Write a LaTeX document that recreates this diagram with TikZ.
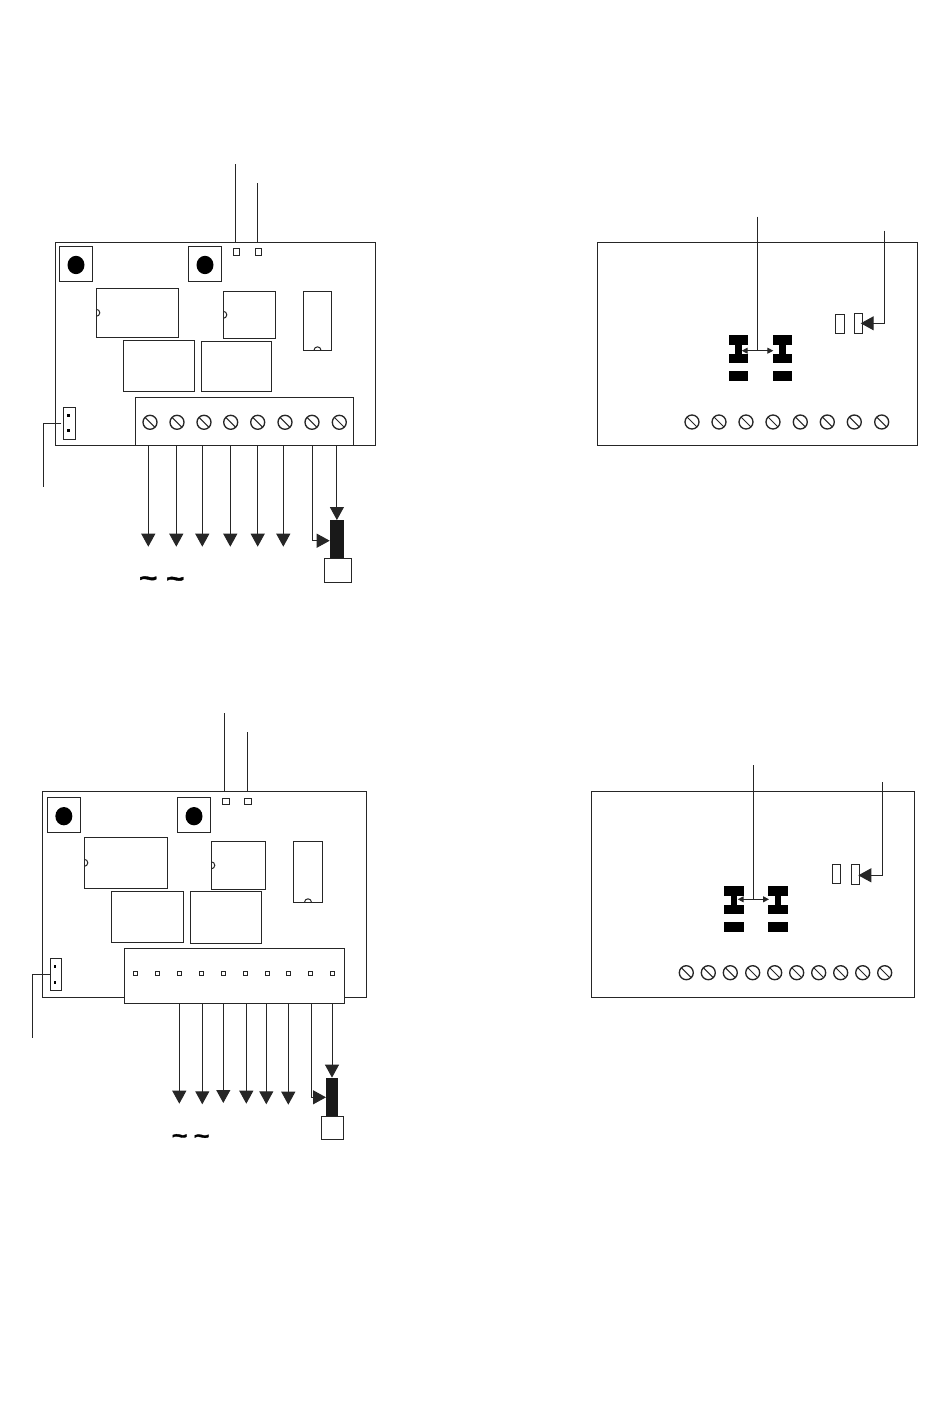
\documentclass[tikz,border=0pt]{standalone}
\usepackage{fontspec}
\setmainfont{Liberation Sans}
\newfontfamily\wavefont[FakeStretch=1.25,BoldFeatures={FakeBold=1.5}]{Liberation Sans}
\usetikzlibrary{arrows.meta,shapes.geometric}

\begin{document}
\begin{tikzpicture}[
    x=0.6pt,
    y=-0.6pt,
    line width=0.6pt,
    box/.style ={
        draw=black!85,
        fill=white,
        inner sep=0pt,
        outer sep=0pt
    },
    solid block/.style ={
        fill=black,
        inner sep=0pt,
        outer sep=0pt
    },
    screw/.style ={
        circle,
        draw=black!85,
        fill=white,
        line width=0.8pt,
        inner sep=0pt,
        outer sep=0pt,
        minimum size=8.4pt,
        path picture={\draw[line width=0.6pt] (path picture bounding box.north west) -- (path picture bounding box.south east);}
    },
    pin/.style ={
        draw=black!85,
        inner sep=0pt,
        outer sep=0pt,
        minimum width=2.4pt,
        minimum height=2.4pt
    },
    wire/.style ={draw=black!85},
    arw/.style ={draw=black!85, -{Triangle[length=7.8pt,width=8.4pt]}},
    tiny arw/.style ={draw=black!85, {Triangle[length=3.6pt,width=3.6pt]}-{Triangle[length=3.6pt,width=3.6pt]}},
    wave/.style ={anchor=base, inner sep=0pt}
    ]
    \useasboundingbox (0,0) rectangle (950,1420);

    % outlines, left/top/width/height
    \foreach \n/\x/\y/\w/\h in {
        boardA/55.3/242.3/320/202.7, boardB/597.3/242.3/320/203.4,
        boardC/42.3/791.3/324/206, boardD/591.3/791.3/323/206,
        btnA/59.3/246.3/33.4/35, btnAb/188.3/246.3/33.4/35,
        padA/233.3/248.3/6/7, padAb/255.3/248.3/6/7,
        icA/96.3/288.3/82/49, icAb/223.3/291.3/52.4/47, icAc/303.3/291.3/28.4/59,
        relA/123.3/340.3/71.4/51, relAb/201.3/341.3/70.4/50,
        blockA/135.7/397.3/217.6/47.7, jmpA/63.3/407.3/12/32, capA/324.3/558.3/27.4/24.4,
        lnkB/835.3/314.3/9.4/19.4, lnkBb/854.3/313.3/8.4/20.4,
        btnC/47/797.3/33.7/35.4, btnCb/177.3/797.3/33.4/35.4,
        padC/222.3/798.3/7.4/6, padCb/244.3/798.3/7.4/6,
        icC/84.3/837.3/83/51, icCb/211.3/841.3/54.4/48, icCc/293.3/841.3/29.4/61,
        relC/111.3/891.3/72.4/51, relCb/190.3/891.3/71.4/52,
        blockC/124.3/948.3/220/55, jmpC/50.3/958.3/11.4/32, capC/321.3/1116/22.4/23.3,
        lnkD/832.3/864.3/8.4/19.4, lnkDb/851.3/864/8.4/20.7}
        \node[box, minimum width=\w*0.6pt, minimum height=\h*0.6pt] (\n) at ({\x+\w/2},{\y+\h/2}) {};

    % notches of the chips
    \foreach \n in {icA, icAb, icC, icCb}
        \draw[wire] ([yshift=2.1pt]\n.west) arc (90:-90:2.1pt);
    \foreach \n in {icAc, icCc}
        \draw[wire] ([xshift=-2.1pt]\n.south) arc (180:0:2.1pt);

    % button caps
    \foreach \n/\pos in {capdotA/btnA, capdotAb/btnAb, capdotC/btnC, capdotCb/btnCb}
        \node[solid block, ellipse, minimum width=10.2pt, minimum height=11pt, yshift=-0.7pt] (\n) at (\pos) {};

    % bars above the plug boxes
    \node[solid block, fill=black!90, minimum width=8.6pt, minimum height=23pt] (barA) at (336.9,539.2) {};
    \node[solid block, fill=black!90, minimum width=7.2pt, minimum height=23pt] (barC) at (332,1096.8) {};

    % screws
    \foreach \i/\x in {1/150, 2/177, 3/204, 4/230.7, 5/257.7, 6/285, 7/312, 8/339.3}
        \node[screw] (scrA\i) at (\x,422.3) {};
    \foreach \i/\x in {1/692, 2/719, 3/746, 4/773, 5/800.3, 6/827.3, 7/854.3, 8/881.7}
        \node[screw] (scrB\i) at (\x,422) {};
    \foreach \i/\x in {1/686.3, 2/708.3, 3/730.3, 4/752.7, 5/774.7, 6/796.7, 7/818.7, 8/840.7, 9/862.7, 10/884.7}
        \node[screw] (scrD\i) at (\x,972.7) {};

    % pins
    \foreach \i/\x in {1/135, 2/157, 3/179, 4/201, 5/223.3, 6/245.3, 7/267.3, 8/288.7, 9/310.7, 10/332.7}
        \node[pin] (pinC\i) at (\x,973.3) {};
    \foreach \n/\x/\y in {jpA/68.7/415.7, jpAb/68.7/430.7, jpC/55/966.3, jpCb/55/982.3}
        \node[solid block, minimum width=1.6pt, minimum height=1.6pt] (\n) at (\x,\y) {};

    % jumper blocks, two per board
    \foreach \n/\x/\y in {jbB/728.7/335.3, jbBb/772.7/335.3, jbD/724/886.3, jbDb/768/886.3} {
        \node[solid block, minimum width=11.7pt, minimum height=5.8pt] (\n t) at ({\x+9.75},{\y+4.85}) {};
        \node[solid block, minimum width=3.9pt, minimum height=6pt] (\n s) at ({\x+9.75},{\y+14}) {};
        \node[solid block, minimum width=11.7pt, minimum height=5.8pt] (\n l) at ({\x+9.75},{\y+23.2}) {};
        \node[solid block, minimum width=11.7pt, minimum height=6pt] (\n b) at ({\x+9.75},{\y+40.7}) {};
    }

    % wires to the terminal arrows
    \foreach \i/\x/\y in {1/148.3/546.7, 2/176.3/546.7, 3/202.3/546.7, 4/230.3/546.7, 5/257.7/546.7, 6/283.3/546.7}
        {\coordinate (tipA\i) at (\x,\y);
         \draw[arw] (blockA.south -| tipA\i) -- (tipA\i);}
    \foreach \i/\x/\y in {1/179.3/1103.7, 2/202.3/1104.3, 3/223.3/1103, 4/246.3/1103.7, 5/266.3/1104.3, 6/288.3/1104.7}
        {\coordinate (tipC\i) at (\x,\y);
         \draw[arw] (blockC.south -| tipC\i) -- (tipC\i);}

    \coordinate (sideA) at (312.3,540.7);
    \coordinate (sideC) at (311.3,1097.3);
    \draw[arw] (blockA.south -| sideA) -- (sideA) -- (barA.west |- sideA);
    \draw[arw] (blockC.south -| sideC) -- (sideC) -- (barC.west |- sideC);
    \draw[arw] (blockA.south -| barA.north) -- (barA.north);
    \draw[arw] (blockC.south -| barC.north) -- (barC.north);

    % leads above and beside the boards
    \foreach \n/\x/\y/\b in {topA/235.3/164/boardA, topAb/257.3/183/boardA, topC/224.3/713.3/boardC, topCb/247.3/732.3/boardC}
        {\coordinate (\n) at (\x,\y);
         \draw[wire] (\n) -- (\b.north -| \n);}

    \coordinate (endA) at (43.3,486.7);
    \coordinate (endC) at (32.3,1038.3);
    \draw[wire, shorten <=1.2pt] (jmpA.west) -| (endA);
    \draw[wire] (jmpC.west) -| (endC);

    % leads of the right hand boards
    \coordinate (upB) at (757.3,216.7);
    \coordinate (upBb) at (884.3,230.7);
    \coordinate (upD) at (753.3,765);
    \coordinate (upDb) at (882.3,782.3);
    \coordinate (midB) at (757.3,350.7);
    \coordinate (midD) at (753.3,899.3);
    \coordinate (lnkpB) at (860.7,323.3);
    \coordinate (lnkpD) at (858.3,875.3);
    \draw[wire] (upB) -- (midB);
    \draw[wire] (upD) -- (midD);
    \draw[arw] (upBb) |- (lnkpB);
    \draw[arw] (upDb) |- (lnkpD);
    \coordinate (spanB) at (741.7,350.7);
    \coordinate (spanBb) at (773.3,350.7);
    \coordinate (spanD) at (737.7,899.3);
    \coordinate (spanDb) at (769,899.3);
    \draw[tiny arw] (spanB) -- (spanBb);
    \draw[tiny arw] (spanD) -- (spanDb);

    % tildes
    \foreach \n/\x/\y/\s in {wavA/148.3/586.5/15, wavAb/175.3/587/15, wavC/179.7/1143/13, wavCb/201.7/1143.3/13}
        \node[wave, font=\wavefont\bfseries\fontsize{\s}{\s}\selectfont] (\n) at (\x,\y) {\textasciitilde};

\end{tikzpicture}
\end{document}
